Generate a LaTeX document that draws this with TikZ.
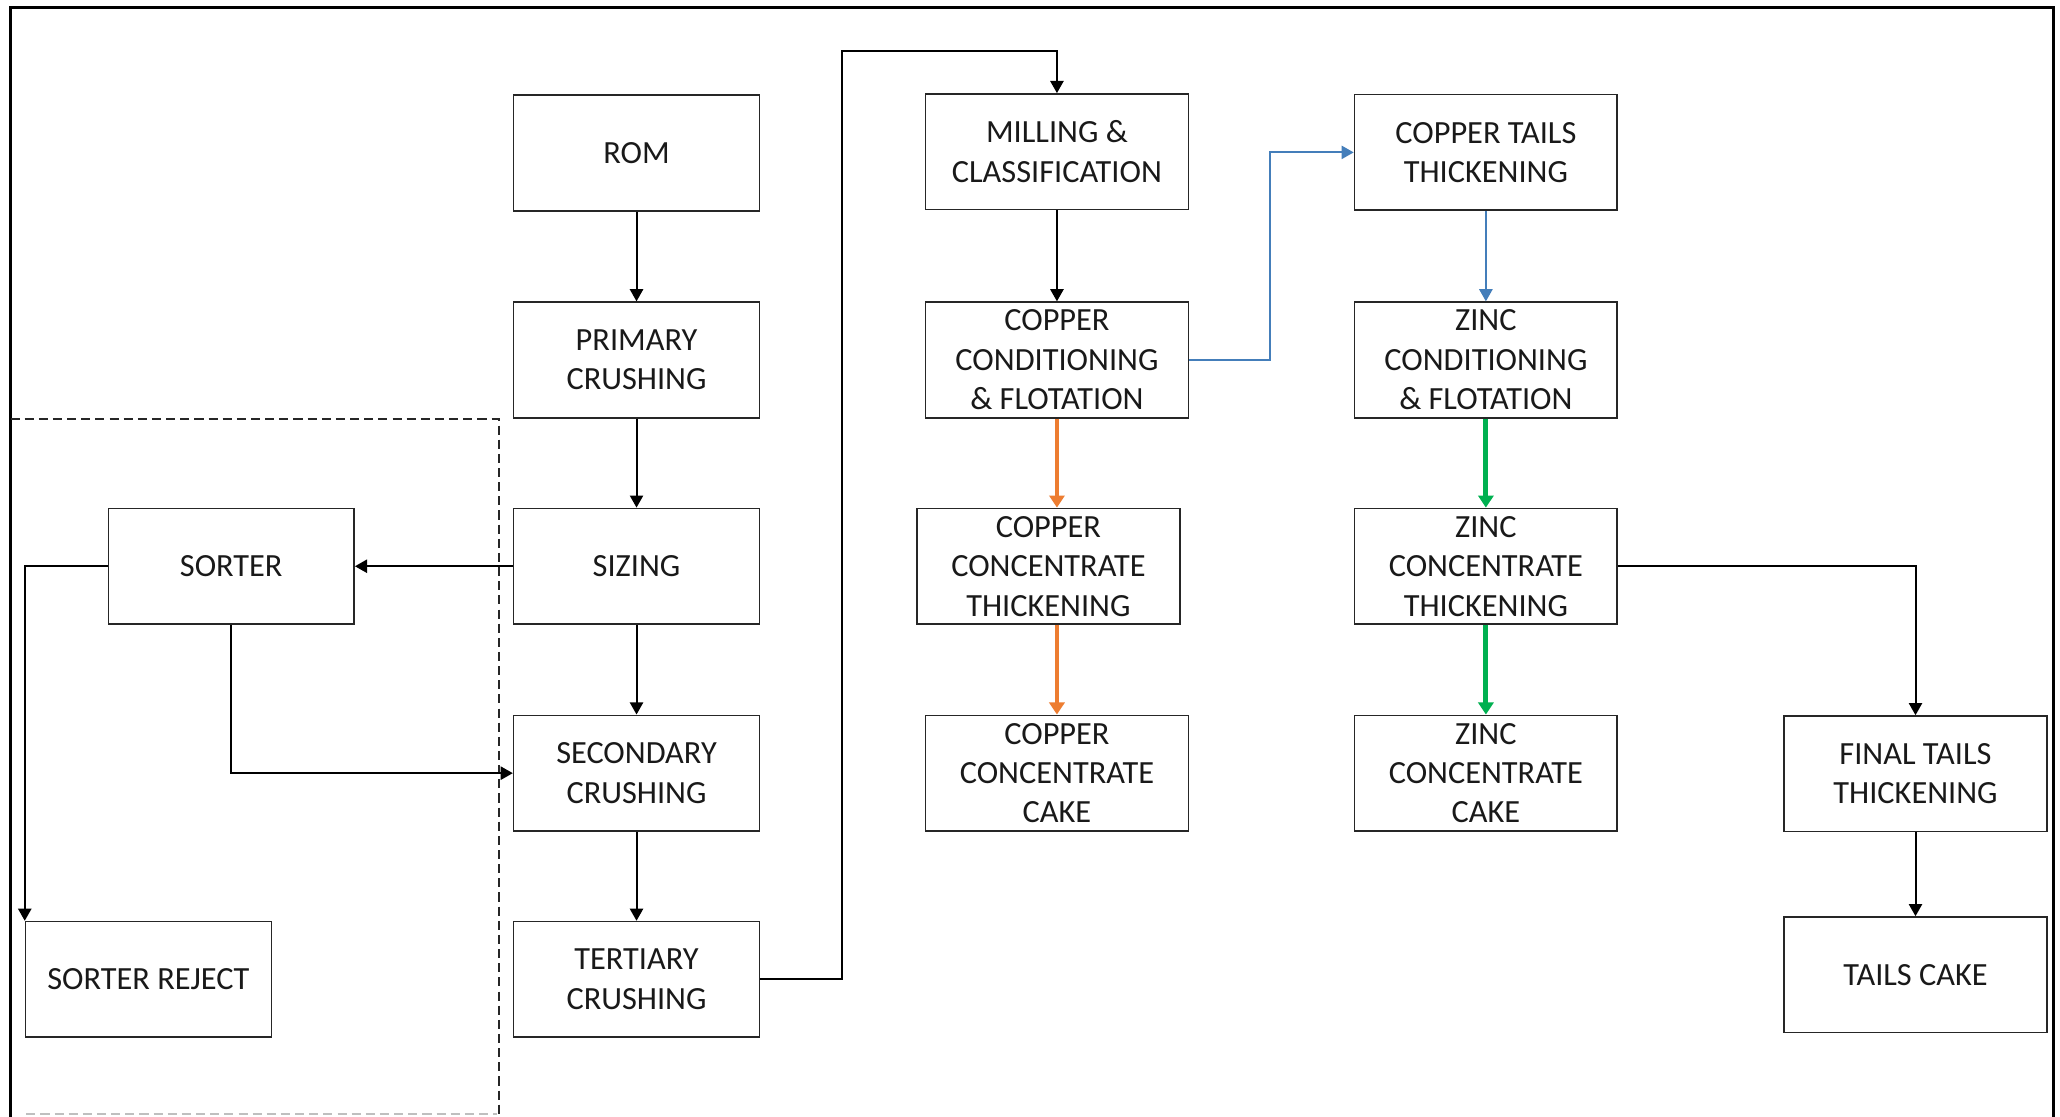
\documentclass[tikz,border=0pt]{standalone}
\usepackage{fontspec}
\setmainfont{Carlito}
\usetikzlibrary{arrows.meta}
\definecolor{orng}{RGB}{237,125,49}
\definecolor{grn}{RGB}{0,176,80}
\definecolor{blu}{RGB}{68,126,186}
\definecolor{txt}{RGB}{25,25,25}
\begin{document}
\begin{tikzpicture}[x=0.65pt,y=-0.65pt,
  box/.style={draw=black!85, line width=0.8pt, inner sep=0pt, align=center,
    minimum height=57.2pt, text=txt,
    font=\fontsize{16pt}{19.5pt}\selectfont},
  narrow/.style={box, minimum width=121.6pt},
  wide/.style={box, minimum width=130pt},
  arr/.style={draw=black, line width=1pt, -{Triangle[length=6pt,width=6.5pt]}},
  blarr/.style={draw=blu, line width=1pt, -{Triangle[length=6pt,width=6.5pt]}},
  orarr/.style={draw=orng, line width=2.4pt, -{Triangle[length=6pt,width=7.5pt]}},
  grarr/.style={draw=grn, line width=2.4pt, -{Triangle[length=6pt,width=7.5pt]}},
  dsh/.style={draw=black!85, line width=1pt, dash pattern=on 4.5pt off 2.5pt}
]
\useasboundingbox (0,0) rectangle (1568,850);
\fill[white] (0,0) rectangle (1568,850);
% outer frame
\draw[line width=1.6pt] (8,850) -- (8,6) -- (1563,6) -- (1563,850);
% dashed region
\draw[dsh] (8,319) -- (380,319) -- (380,850);
\draw[draw=black!25, line width=0.6pt, dash pattern=on 4.5pt off 2.5pt] (20,848) -- (378,848);

% crushing line
\node[narrow] (rom) at (484.5,116.5) {ROM};
\node[narrow] (pri) at (484.5,274) {PRIMARY\\CRUSHING};
\node[narrow] (siz) at (484.5,431) {SIZING};
\node[narrow] (sec) at (484.5,588.5) {SECONDARY\\CRUSHING};
\node[narrow] (ter) at (484.5,745.5) {TERTIARY\\CRUSHING};
\node[narrow] (sor) at (176,431) {SORTER};
\node[narrow] (rej) at (113,745.5) {SORTER REJECT};

% copper line
\node[wide] (mil) at (804.5,115.5) {MILLING \&\\CLASSIFICATION};
\node[wide] (ccf) at (804.5,274) {COPPER\\CONDITIONING\\\& FLOTATION};
\node[wide] (cct) at (798,431) {COPPER\\CONCENTRATE\\THICKENING};
\node[wide] (ccc) at (804.5,588.5) {COPPER\\CONCENTRATE\\CAKE};

% zinc line
\node[wide] (ctt) at (1131,116) {COPPER TAILS\\THICKENING};
\node[wide] (zcf) at (1131,274) {ZINC\\CONDITIONING\\\& FLOTATION};
\node[wide] (zct) at (1131,431) {ZINC\\CONCENTRATE\\THICKENING};
\node[wide] (zcc) at (1131,588.5) {ZINC\\CONCENTRATE\\CAKE};

% tails
\node[wide] (ftt) at (1458,589) {FINAL TAILS\\THICKENING};
\node[wide] (tc) at (1458,742) {TAILS CAKE};

\coordinate (j1) at (641,39);
\coordinate (j2) at (967,116);

% connectors
\draw[arr] (rom) -- (pri);
\draw[arr] (pri) -- (siz);
\draw[arr] (siz) -- (sec);
\draw[arr] (sec) -- (ter);
\draw[arr] (siz.west) -- (sor.east);
\draw[arr] (sor.west) -| (rej.north west);
\draw[arr] (sor.south) |- (sec.west);
\draw[arr] (ter.east) -| (j1) -| (mil.north);
\draw[arr] (mil) -- (ccf);
\draw[blarr] (ccf.east) -| (j2) -- (ctt.west);
\draw[blarr] (ctt) -- (zcf);
\draw[orarr] (ccf.south) -- (ccf.south |- cct.north);
\draw[orarr] (ccc.north |- cct.south) -- (ccc.north);
\draw[grarr] (zcf) -- (zct);
\draw[grarr] (zct) -- (zcc);
\draw[arr] (zct.east) -| (ftt.north);
\draw[arr] (ftt) -- (tc);
\end{tikzpicture}
\end{document}
